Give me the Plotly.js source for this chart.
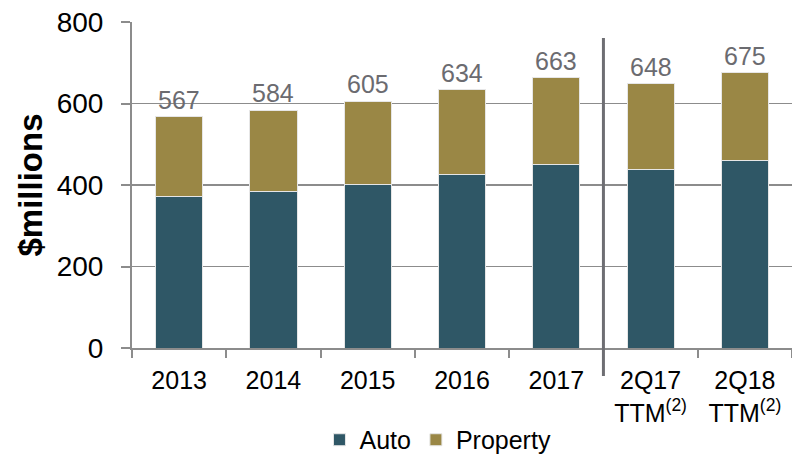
<!DOCTYPE html>
<html>
<head>
<meta charset="utf-8">
<script src="https://cdn.plot.ly/plotly-3.0.1.min.js"></script>
<style>html,body{margin:0;padding:0;background:#fff;}#chart{width:792px;height:455px;}</style>
</head>
<body>
<div id="chart"></div>
<script>
const categories = ["2013", "2014", "2015", "2016", "2017", "2Q17<br>TTM<sup>(2)</sup>", "2Q18<br>TTM<sup>(2)</sup>"];
const autoValues = [371, 383, 402, 426, 450, 439, 459];
const propertyValues = [196, 201, 203, 208, 213, 209, 216];
const yTickValues = [0, 200, 400, 600, 800];

const totals = autoValues.map((v, i) => v + propertyValues[i]);
const FONT = "Liberation Sans, Arial, sans-serif";
const GRID = "#8c8c8c";

const traces = [
  {
    type: "bar", name: "Auto", x: categories, y: autoValues,
    marker: {color: "#2f5766", line: {color: "#e6e6e6", width: 1}},
    hoverinfo: "skip"
  },
  {
    type: "bar", name: "Property", x: categories, y: propertyValues,
    marker: {color: "#9a8745", line: {color: "#e6e6e6", width: 1}},
    hoverinfo: "skip"
  }
];

const annotations = categories.map((c, i) => ({
  x: i, y: totals[i], xref: "x", yref: "y",
  text: String(totals[i]), showarrow: false,
  yanchor: "bottom", yshift: 1,
  font: {family: FONT, size: 25, color: "#6b6b70"}
}));

const layout = {
  width: 792, height: 455,
  margin: {l: 132, r: 0, t: 22, b: 107},
  paper_bgcolor: "#ffffff", plot_bgcolor: "#ffffff",
  barmode: "stack", bargap: 0.5,
  font: {family: FONT, color: "#000000"},
  showlegend: true,
  legend: {
    orientation: "h", xref: "paper", x: 0.4636, xanchor: "center",
    yref: "container", y: 0.033, yanchor: "middle",
    font: {family: FONT, size: 25, color: "#000000"},
    traceorder: "normal", itemclick: false
  },
  xaxis: {
    type: "category", range: [-0.5, 6.5],
    showline: true, linecolor: GRID, linewidth: 2,
    ticks: "outside", tickson: "boundaries", ticklen: 8, tickwidth: 2, tickcolor: GRID,
    ticklabelstandoff: 9,
    tickfont: {family: FONT, size: 25, color: "#000000"},
    showgrid: false, zeroline: false, fixedrange: true, automargin: false
  },
  yaxis: {
    range: [0, 800], tickvals: yTickValues, ticktext: yTickValues.map(String),
    showline: true, linecolor: GRID, linewidth: 2,
    ticks: "outside", ticklen: 9, tickwidth: 2, tickcolor: GRID,
    ticklabelstandoff: 12,
    tickfont: {family: FONT, size: 28, color: "#000000"},
    showgrid: true, gridcolor: GRID, gridwidth: 1.5,
    zeroline: false, fixedrange: true, automargin: false,
    title: {text: "<b>$millions</b>", font: {family: FONT, size: 33, color: "#000000"}, standoff: 4}
  },
  shapes: [{
    type: "line", xref: "x", yref: "paper",
    x0: 4.5, x1: 4.5, y0: -0.086, y1: 0.951,
    line: {color: "#6e6e73", width: 3}
  }],
  annotations: annotations
};

Plotly.newPlot("chart", traces, layout, {displayModeBar: false, staticPlot: true});
</script>
</body>
</html>
